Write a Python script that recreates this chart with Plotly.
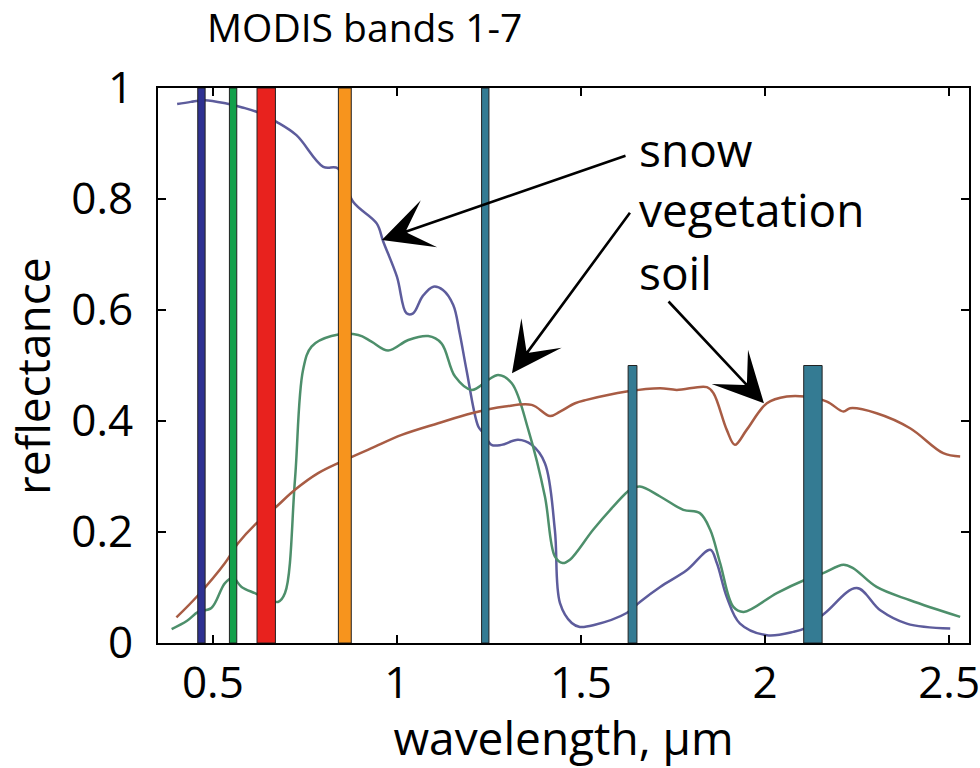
import plotly.graph_objects as go

# ---------------- data ----------------
snow_wl = [0.403, 0.44, 0.478, 0.537, 0.58, 0.619, 0.673, 0.727, 0.80, 0.84, 0.881, 0.945, 0.963,
           1.0, 1.026, 1.044, 1.07, 1.099, 1.125, 1.153, 1.17, 1.189, 1.221, 1.235, 1.257, 1.284,
           1.329, 1.366, 1.402, 1.429, 1.443, 1.475, 1.497, 1.533, 1.624, 1.660, 1.715, 1.787,
           1.851, 1.869, 1.896, 1.932, 2.005, 2.077, 2.109, 2.163, 2.249, 2.313, 2.385, 2.503]
snow_refl = [0.971, 0.975, 0.978, 0.972, 0.965, 0.957, 0.939, 0.915, 0.858, 0.855, 0.795, 0.756, 0.723,
             0.66, 0.594, 0.594, 0.625, 0.642, 0.636, 0.609, 0.56, 0.492, 0.390, 0.378, 0.357, 0.357,
             0.366, 0.357, 0.324, 0.204, 0.072, 0.036, 0.029, 0.032, 0.054, 0.074, 0.101, 0.131,
             0.168, 0.144, 0.083, 0.035, 0.014, 0.020, 0.027, 0.054, 0.099, 0.059, 0.035, 0.026]

veg_wl = [0.388, 0.43, 0.460, 0.496, 0.533, 0.555, 0.578, 0.614, 0.677, 0.696, 0.723, 0.745, 0.768,
          0.822, 0.895, 0.931, 0.976, 1.031, 1.085, 1.121, 1.158, 1.203, 1.248, 1.275, 1.312,
          1.357, 1.402, 1.429, 1.450, 1.470, 1.533, 1.588, 1.633, 1.660, 1.715, 1.778, 1.823,
          1.851, 1.878, 1.914, 1.942, 2.032, 2.109, 2.158, 2.213, 2.239, 2.303, 2.394, 2.530]
veg_refl = [0.025, 0.040, 0.056, 0.063, 0.108, 0.117, 0.101, 0.090, 0.074, 0.090, 0.294, 0.492, 0.534,
            0.553, 0.555, 0.543, 0.527, 0.546, 0.553, 0.540, 0.480, 0.456, 0.474, 0.483, 0.468,
            0.384, 0.264, 0.156, 0.144, 0.150, 0.204, 0.246, 0.276, 0.282, 0.264, 0.240, 0.234,
            0.204, 0.144, 0.065, 0.056, 0.090, 0.114, 0.126, 0.141, 0.135, 0.101, 0.077, 0.047]

soil_wl = [0.401, 0.460, 0.533, 0.569, 0.614, 0.668, 0.723, 0.786, 0.850, 0.931, 1.013, 1.112,
           1.203, 1.293, 1.366, 1.416, 1.443, 1.484, 1.515, 1.624, 1.715, 1.760, 1.842, 1.860,
           1.896, 1.918, 1.950, 2.005, 2.059, 2.109, 2.168, 2.213, 2.231, 2.303, 2.394, 2.484, 2.530]
soil_refl = [0.046, 0.086, 0.144, 0.180, 0.213, 0.243, 0.276, 0.306, 0.327, 0.351, 0.375, 0.396,
             0.414, 0.426, 0.429, 0.409, 0.417, 0.432, 0.438, 0.453, 0.459, 0.456, 0.461, 0.450,
             0.384, 0.357, 0.384, 0.432, 0.444, 0.444, 0.435, 0.417, 0.423, 0.414, 0.387, 0.342, 0.336]

# MODIS bands 1-7 (micrometres)
band_lo = [0.620, 0.841, 0.459, 0.545, 1.230, 1.628, 2.105]
band_hi = [0.670, 0.876, 0.479, 0.565, 1.250, 1.652, 2.155]
band_top = [1.0, 1.0, 1.0, 1.0, 1.0, 0.5, 0.5]
band_colors = ["#E8221E", "#F7941D", "#2E3192", "#12A04A", "#347B93", "#347B93", "#347B93"]

labels = ["snow", "vegetation", "soil"]
label_x = [1.652, 1.652, 1.652]
label_y = [0.891, 0.782, 0.668]
arrow_tail_x = [1.625, 1.636, 1.734]
arrow_tail_y = [0.879, 0.778, 0.618]
arrow_head_x = [0.959, 1.3125, 1.997]
arrow_head_y = [0.726, 0.486, 0.432]

x_ticks = [0.5, 1, 1.5, 2, 2.5]
x_tick_text = ["0.5", "1", "1.5", "2", "2.5"]
y_ticks = [0, 0.2, 0.4, 0.6, 0.8, 1]
y_tick_text = ["0", "0.2", "0.4", "0.6", "0.8", "1"]

FONT = "Open Sans"

fig = go.Figure()
fig.add_trace(go.Scatter(x=snow_wl, y=snow_refl, mode="lines", name="snow",
                         line=dict(color="#5D5C9C", width=2.5), line_shape="spline"))
fig.add_trace(go.Scatter(x=veg_wl, y=veg_refl, mode="lines", name="vegetation",
                         line=dict(color="#4D8F6B", width=2.5), line_shape="spline"))
fig.add_trace(go.Scatter(x=soil_wl, y=soil_refl, mode="lines", name="soil",
                         line=dict(color="#A85C44", width=2.5), line_shape="spline"))

shapes = []
for lo, hi, top, col in zip(band_lo, band_hi, band_top, band_colors):
    shapes.append(dict(type="rect", xref="x", yref="y", x0=lo, x1=hi, y0=0, y1=top,
                       fillcolor=col, line=dict(color="#222222", width=1), layer="above"))

annotations = []
for t, lx, ly in zip(labels, label_x, label_y):
    annotations.append(dict(x=lx, y=ly, xref="x", yref="y", text=t, showarrow=False,
                            xanchor="left", yanchor="middle",
                            font=dict(family=FONT, size=46, color="black")))
for tx, ty, hx, hy in zip(arrow_tail_x, arrow_tail_y, arrow_head_x, arrow_head_y):
    annotations.append(dict(x=hx, y=hy, ax=tx, ay=ty, xref="x", yref="y", axref="x", ayref="y",
                            text="", showarrow=True, arrowhead=3, arrowsize=3.2, arrowwidth=2.6,
                            arrowcolor="black"))
# y-axis title
annotations.append(dict(x=(32 - 158) / 811, y=(643 - 376) / 555, xref="paper", yref="paper",
                        text="reflectance", showarrow=False, textangle=-90,
                        xanchor="center", yanchor="middle",
                        font=dict(family=FONT, size=46, color="black")))

fig.update_layout(
    width=980, height=768,
    margin=dict(l=158, r=11, t=88, b=125, autoexpand=False),
    paper_bgcolor="white", plot_bgcolor="white",
    showlegend=False,
    font=dict(family=FONT, color="black"),
    title=dict(text="MODIS bands 1-7", x=207 / 980, xanchor="left", xref="container",
               y=1 - 28 / 768, yanchor="middle", yref="container",
               font=dict(family=FONT, size=39, color="black")),
    shapes=shapes,
    annotations=annotations,
)
fig.update_xaxes(range=[0.351, 2.554], tickvals=x_ticks, ticktext=x_tick_text,
                 showline=True, linecolor="black", linewidth=2, mirror="ticks",
                 ticks="inside", ticklen=8, tickwidth=1.5, tickcolor="black",
                 showgrid=False, zeroline=False, ticklabelstandoff=0, automargin=False,
                 ticklabeloverflow="allow",
                 tickfont=dict(family=FONT, size=44, color="black"),
                 title=dict(text="wavelength, μm", standoff=20,
                            font=dict(family=FONT, size=46, color="black")))
fig.update_yaxes(range=[0, 1], tickvals=y_ticks, ticktext=y_tick_text,
                 showline=True, linecolor="black", linewidth=2, mirror="ticks",
                 ticks="inside", ticklen=8, tickwidth=1.5, tickcolor="black",
                 showgrid=False, zeroline=False, ticklabelstandoff=14, automargin=False,
                 ticklabeloverflow="allow",
                 tickfont=dict(family=FONT, size=44, color="black"))

fig.write_html("out.html")
